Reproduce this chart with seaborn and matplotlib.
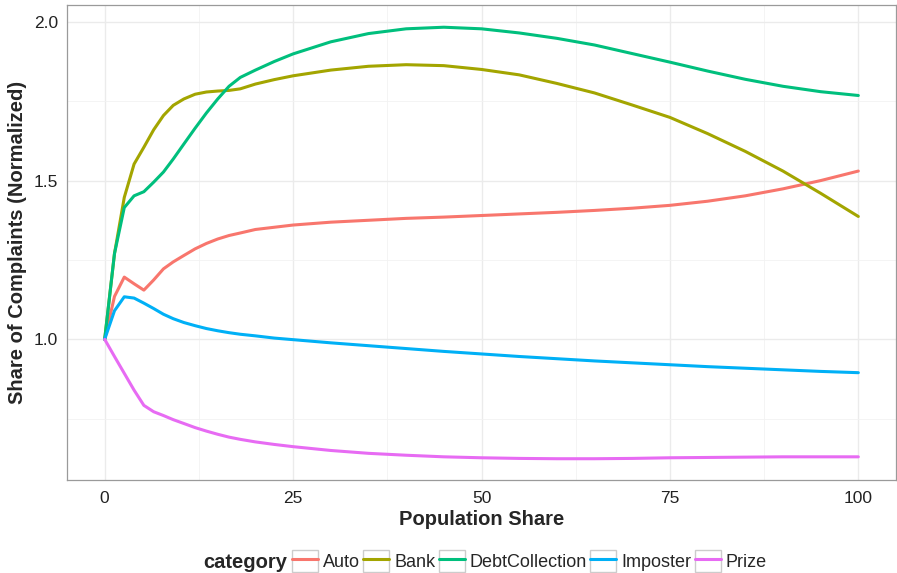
import pandas as pd
import matplotlib.pyplot as plt
import numpy as np
import seaborn as sns
from matplotlib.patches import Rectangle
from matplotlib.lines import Line2D
from matplotlib.ticker import MultipleLocator
from matplotlib.legend_handler import HandlerTuple

# data ------------------------------------------------------------
share = [0, 1.3, 2.6, 3.9, 5.2, 6.5, 7.8, 9.1, 10.5, 12, 13.5, 15, 16.5, 18,
         20, 22.5, 25, 30, 35, 40, 45, 50, 55, 60, 65, 70, 75, 80, 85, 90, 95, 100]

auto = [1.0, 1.135, 1.196, 1.175, 1.155, 1.187, 1.222, 1.244, 1.264, 1.285, 1.302, 1.316,
        1.327, 1.335, 1.346, 1.353, 1.360, 1.369, 1.375, 1.381, 1.385, 1.390, 1.395, 1.400,
        1.406, 1.413, 1.422, 1.435, 1.452, 1.474, 1.500, 1.530]
bank = [1.0, 1.27, 1.447, 1.552, 1.605, 1.660, 1.705, 1.737, 1.757, 1.772, 1.779, 1.782,
        1.784, 1.789, 1.804, 1.818, 1.830, 1.848, 1.860, 1.865, 1.862, 1.850, 1.833, 1.806,
        1.776, 1.738, 1.699, 1.648, 1.592, 1.530, 1.460, 1.387]
debt = [1.0, 1.27, 1.415, 1.452, 1.465, 1.495, 1.527, 1.568, 1.615, 1.665, 1.713, 1.757,
        1.797, 1.825, 1.848, 1.875, 1.899, 1.937, 1.963, 1.978, 1.983, 1.978, 1.965, 1.948,
        1.927, 1.900, 1.873, 1.845, 1.819, 1.797, 1.780, 1.768]
imposter = [1.0, 1.09, 1.134, 1.130, 1.114, 1.097, 1.079, 1.065, 1.053, 1.043, 1.034, 1.027,
            1.021, 1.016, 1.011, 1.004, 0.999, 0.989, 0.980, 0.971, 0.962, 0.954, 0.946, 0.939,
            0.932, 0.926, 0.920, 0.914, 0.909, 0.904, 0.899, 0.895]
prize = [1.0, 0.946, 0.893, 0.840, 0.792, 0.772, 0.760, 0.747, 0.735, 0.722, 0.711, 0.701,
         0.692, 0.685, 0.677, 0.669, 0.662, 0.650, 0.641, 0.635, 0.630, 0.627, 0.625, 0.624,
         0.624, 0.625, 0.627, 0.628, 0.629, 0.630, 0.630, 0.630]

categories = ["Auto", "Bank", "DebtCollection", "Imposter", "Prize"]
colors = ["#F8766D", "#A3A500", "#00BF7D", "#00B0F6", "#E76BF3"]

df = pd.concat([pd.DataFrame({"share": share, "value": v, "category": c})
                for c, v in zip(categories, [auto, bank, debt, imposter, prize])])

# style -----------------------------------------------------------
sns.set_style("white")
plt.rcParams["font.family"] = ["Liberation Sans", "DejaVu Sans"]

fig = plt.figure(figsize=(8.97, 5.73), dpi=100)
ax = fig.add_axes([67/897, 93/573, 829/897, 475/573])

sns.lineplot(data=df, x="share", y="value", hue="category", palette=colors,
             hue_order=categories, linewidth=2.2, ax=ax, legend=False)

ax.set_xlim(-5, 105)
ax.set_ylim(0.557, 2.053)
ax.xaxis.set_minor_locator(MultipleLocator(12.5))
ax.yaxis.set_minor_locator(MultipleLocator(0.25))
ax.set_xticks([0, 25, 50, 75, 100], ["0", "25", "50", "75", "100"])
ax.set_yticks([1.0, 1.5, 2.0], ["1.0", "1.5", "2.0"])

ax.grid(which="major", color="#EBEBEB", linewidth=1.0)
ax.grid(which="minor", color="#F2F2F2", linewidth=0.6)
ax.set_axisbelow(True)
for spine in ax.spines.values():
    spine.set_color("#9a9a9a")
    spine.set_linewidth(0.9)

ax.tick_params(which="major", length=3.6, width=0.9, color="#333333",
               labelsize=12.5, labelcolor="#222222", pad=3)
ax.tick_params(which="minor", length=0)
ax.tick_params(axis="x", pad=4)

ax.set_xlabel("Population Share", fontsize=14.5, fontweight="bold", labelpad=3)
ax.set_ylabel("Share of Complaints (Normalized)", fontsize=14.5, fontweight="bold", labelpad=5)

# legend ------------------------------------------------------------
handles = [(Rectangle((0, 0), 1, 1, facecolor="white", edgecolor="#cccccc", linewidth=1.0),
            Line2D([], [], color=c, linewidth=2.2)) for c in colors]
fig.legend(handles, categories, loc="center left", bbox_to_anchor=(292/897, 1 - 561/573),
           ncol=5, frameon=False, fontsize=13, handlelength=1.45, handleheight=1.45,
           handletextpad=0.25, columnspacing=0.2, borderpad=0, borderaxespad=0,
           handler_map={tuple: HandlerTuple(ndivide=1, pad=0)})
fig.text(287/897, 1 - 563/573, "category", ha="right", va="center",
         fontsize=14.5, fontweight="bold")

plt.savefig("out.png", dpi=100)
